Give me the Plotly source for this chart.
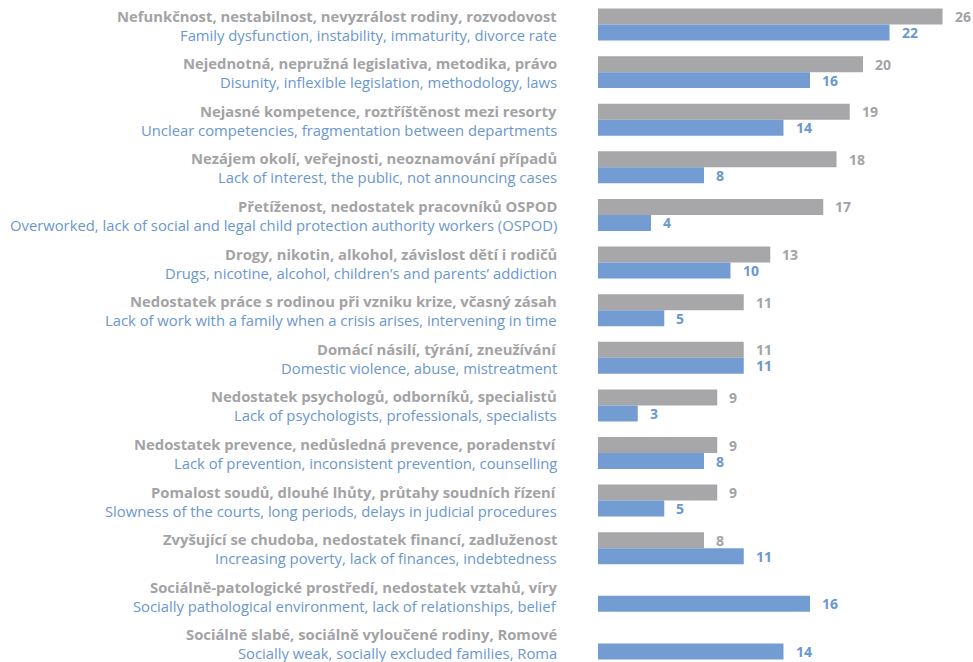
import plotly.graph_objects as go

labels_cz = [
    "Nefunkčnost, nestabilnost, nevyzrálost rodiny, rozvodovost",
    "Nejednotná, nepružná legislativa, metodika, právo",
    "Nejasné kompetence, roztříštěnost mezi resorty",
    "Nezájem okolí, veřejnosti, neoznamování případů",
    "Přetíženost, nedostatek pracovníků OSPOD",
    "Drogy, nikotin, alkohol, závislost dětí i rodičů",
    "Nedostatek práce s rodinou při vzniku krize, včasný zásah",
    "Domácí násilí, týrání, zneužívání",
    "Nedostatek psychologů, odborníků, specialistů",
    "Nedostatek prevence, nedůsledná prevence, poradenství",
    "Pomalost soudů, dlouhé lhůty, průtahy soudních řízení",
    "Zvyšující se chudoba, nedostatek financí, zadluženost",
    "Sociálně-patologické prostředí, nedostatek vztahů, víry",
    "Sociálně slabé, sociálně vyloučené rodiny, Romové",
]
labels_en = [
    "Family dysfunction, instability, immaturity, divorce rate",
    "Disunity, inflexible legislation, methodology, laws",
    "Unclear competencies, fragmentation between departments",
    "Lack of interest, the public, not announcing cases",
    "Overworked, lack of social and legal child protection authority workers (OSPOD)",
    "Drugs, nicotine, alcohol, children’s and parents’ addiction",
    "Lack of work with a family when a crisis arises, intervening in time",
    "Domestic violence, abuse, mistreatment",
    "Lack of psychologists, professionals, specialists",
    "Lack of prevention, inconsistent prevention, counselling",
    "Slowness of the courts, long periods, delays in judicial procedures",
    "Increasing poverty, lack of finances, indebtedness",
    "Socially pathological environment, lack of relationships, belief",
    "Socially weak, socially excluded families, Roma",
]
gray_values = [26, 20, 19, 18, 17, 13, 11, 11, 9, 9, 9, 8, None, None]
blue_values = [22, 16, 14, 8, 4, 10, 5, 11, 3, 8, 5, 11, 16, 14]

GRAY = "#a7a7a9"
BLUE = "#729cd2"
GRAY_TXT = "#a3a3a5"
BLUE_TXT = "#6a97d0"
FONT = "Open Sans"
LABEL_SIZE = 14.8

fig = go.Figure()
fig.add_trace(go.Bar(y=labels_cz, x=gray_values, orientation="h",
                     marker=dict(color=GRAY, line=dict(width=0)), hoverinfo="skip"))
fig.add_trace(go.Bar(y=labels_cz, x=blue_values, orientation="h",
                     marker=dict(color=BLUE, line=dict(width=0)), hoverinfo="skip"))

ann = []
for cz, en, g, b in zip(labels_cz, labels_en, gray_values, blue_values):
    ann.append(dict(x=0, xref="paper", y=cz, yref="y", text="<b>" + cz + "</b>",
                    xanchor="right", yanchor="middle", xshift=-39, yshift=9,
                    showarrow=False, font=dict(family=FONT, size=LABEL_SIZE, color=GRAY_TXT)))
    ann.append(dict(x=0, xref="paper", y=cz, yref="y", text=en,
                    xanchor="right", yanchor="middle", xshift=-39, yshift=-10,
                    showarrow=False, font=dict(family=FONT, size=LABEL_SIZE, color=BLUE_TXT)))
    if g is not None:
        ann.append(dict(x=g, xref="x", y=cz, yref="y", text="<b>%d</b>" % g,
                        xanchor="left", yanchor="middle", xshift=10, yshift=8,
                        showarrow=False, font=dict(family=FONT, size=14, color=GRAY_TXT)))
    ann.append(dict(x=b, xref="x", y=cz, yref="y", text="<b>%d</b>" % b,
                    xanchor="left", yanchor="middle", xshift=10, yshift=-8,
                    showarrow=False, font=dict(family=FONT, size=14, color=BLUE_TXT)))

fig.update_layout(
    width=973, height=662,
    margin=dict(l=598, r=0, t=0, b=0),
    paper_bgcolor="white", plot_bgcolor="white",
    barmode="group", bargap=0.328, bargroupgap=0,
    showlegend=False, hovermode=False,
    annotations=ann,
    xaxis=dict(range=[0, 28.3], visible=False, fixedrange=True),
    yaxis=dict(range=[13.39, -0.515], showticklabels=False, showgrid=False,
               zeroline=False, showline=False, ticks="", fixedrange=True),
)

fig.write_html(
    "out.html",
    config={"displayModeBar": False, "staticPlot": True},
    post_script="document.body.style.margin='0';document.body.style.overflow='hidden';",
)
